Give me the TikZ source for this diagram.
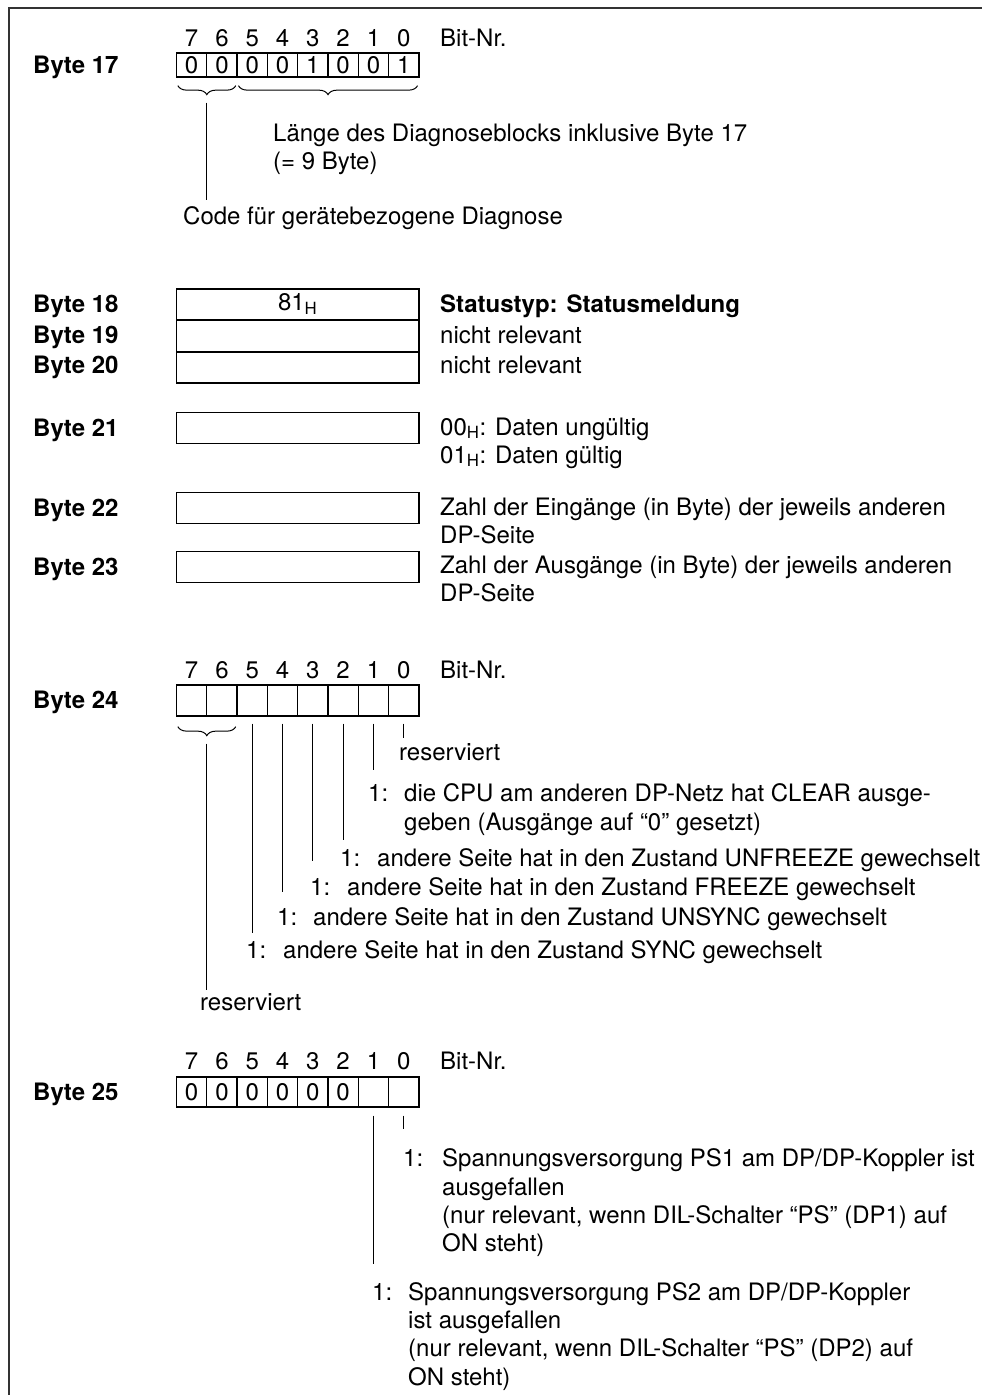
\documentclass[tikz,border=0pt]{standalone}
\usepackage{fontspec}
\setmainfont{TeX Gyre Heros}
\usetikzlibrary{decorations.pathreplacing,calc}
\newcommand{\fs}{\fontsize{24}{28.5}\selectfont}
\begin{document}
\begin{tikzpicture}[x=1pt,y=-1pt,
  txt/.style={anchor=base west,inner sep=0pt,font=\fs},
  lbl/.style={anchor=base west,inner sep=0pt,font=\fs\bfseries},
  dig/.style={anchor=base,inner sep=0pt,font=\fs},
  cell/.style={draw,line width=1.3pt,minimum width=30.3pt,minimum height=#1,inner sep=0pt,anchor=center,font=\fs},
  wbox/.style={draw,line width=1.3pt,minimum width=242.4pt,minimum height=30.5pt,inner sep=0pt,anchor=center,font=\fs},
  lead/.style={line width=1pt},
  brc/.style={line width=1pt,decorate,decoration={brace,mirror,amplitude=9pt}},
  frame/.style={line width=1.8pt,black!80}]
\useasboundingbox (0,0) rectangle (982,1395);
\draw[frame] (9,1395) -- (9,8) -- (982,8);

% ---------------- Byte 17
\node[lbl] (l17) at (33,73) {Byte 17};
\foreach \i/\v in {7/0,6/0,5/0,4/0,3/1,2/0,1/0,0/1}{
  \node[cell=24pt] (c17-\i) at ({191.65+30.3*(7-\i)},65) {\v};
  \node[dig] (n17-\i) at ({191.65+30.3*(7-\i)},46) {\i};
}
\node[txt] (bn17) at (440,46) {Bit-Nr.};
\coordinate (b17a) at ($(c17-7.south west)+(2,8)$);
\coordinate (b17b) at ($(c17-6.south east)+(-2,8)$);
\coordinate (b17c) at ($(c17-5.south west)+(2,8)$);
\coordinate (b17d) at ($(c17-0.south east)+(-2,8)$);
\draw[brc] (b17a) -- (b17b);
\draw[brc] (b17c) -- (b17d);
\node[txt] (t17a) at (273,141) {Länge des Diagnoseblocks inklusive Byte 17};
\node[txt] (t17b) at (273,169) {(= 9 Byte)};
\node[txt] (t17c) at (183,224) {Code für gerätebezogene Diagnose};
\coordinate (s17) at ($(b17a)!0.5!(b17b)+(0,17)$);
\coordinate (e17) at (s17 |- 0,200);
\draw[lead] (s17) -- (e17);

% ---------------- Byte 18-23
\node[lbl] (l18) at (33,312) {Byte 18};
\node[lbl] (l19) at (33,343) {Byte 19};
\node[lbl] (l20) at (33,373) {Byte 20};
\node[wbox] (r18) at (297.7,304.25) {81\textsubscript{H}};
\node[wbox,anchor=north] (r19) at (r18.south) {};
\node[wbox,anchor=north] (r20) at (r19.south) {};
\node[txt,font=\fs\bfseries] (t18) at (440,312) {Statustyp: Statusmeldung};
\node[txt] (t19) at (440,343) {nicht relevant};
\node[txt] (t20) at (440,373) {nicht relevant};

\node[lbl] (l21) at (33,436) {Byte 21};
\node[wbox] (r21) at (297.7,428) {};
\node[txt] (t21a) at (440,435) {00\textsubscript{H}: Daten ungültig};
\node[txt] (t21b) at (440,463) {01\textsubscript{H}: Daten gültig};

\node[lbl] (l22) at (33,516) {Byte 22};
\node[wbox] (r22) at (297.7,508) {};
\node[txt] (t22a) at (440,515) {Zahl der Eingänge (in Byte) der jeweils anderen};
\node[txt] (t22b) at (440,543) {DP-Seite};

\node[lbl] (l23) at (33,575) {Byte 23};
\node[wbox] (r23) at (297.7,567) {};
\node[txt] (t23a) at (440,573) {Zahl der Ausgänge (in Byte) der jeweils anderen};
\node[txt] (t23b) at (440,601) {DP-Seite};

% ---------------- Byte 24
\node[lbl] (l24) at (33,708) {Byte 24};
\foreach \i in {7,...,0}{
  \node[cell=31pt] (c24-\i) at ({191.65+30.3*(7-\i)},700.5) {};
  \node[dig] (n24-\i) at ({191.65+30.3*(7-\i)},678) {\i};
}
\node[txt] (bn24) at (440,678) {Bit-Nr.};
\coordinate (b24a) at ($(c24-7.south west)+(2,10)$);
\coordinate (b24b) at ($(c24-6.south east)+(-2,10)$);
\draw[brc] (b24a) -- (b24b);
\coordinate (s24) at ($(b24a)!0.5!(b24b)+(0,17)$);
\coordinate (e24) at (s24 |- 0,990);
\draw[lead] (s24) -- (e24);
\node[txt] (r24a) at (399,760) {reserviert};
\node[txt] (k24-1) at (368,801) {1:};
\node[txt] (t24-1a) at (404,801) {die CPU am anderen DP-Netz hat CLEAR ausge-};
\node[txt] (t24-1b) at (404,830) {geben (Ausgänge auf “0” gesetzt)};
\node[txt] (k24-2) at (340,866) {1:};
\node[txt] (t24-2) at (377,866) {andere Seite hat in den Zustand UNFREEZE gewechselt};
\node[txt] (k24-3) at (310,895) {1:};
\node[txt] (t24-3) at (347,895) {andere Seite hat in den Zustand FREEZE gewechselt};
\node[txt] (k24-4) at (277,925) {1:};
\node[txt] (t24-4) at (313,925) {andere Seite hat in den Zustand UNSYNC gewechselt};
\node[txt] (k24-5) at (246,958) {1:};
\node[txt] (t24-5) at (283,958) {andere Seite hat in den Zustand SYNC gewechselt};
\node[txt] (r24b) at (200,1010) {reserviert};
\foreach \i/\e in {0/738,1/770,2/840,3/861,4/892,5/933}{
  \coordinate (e24-\i) at (c24-\i.south |- 0,\e);
  \draw[lead] ([yshift=-7pt]c24-\i.south) -- (e24-\i);
}

% ---------------- Byte 25
\node[lbl] (l25) at (33,1100) {Byte 25};
\foreach \i/\v in {7/0,6/0,5/0,4/0,3/0,2/0,1/{},0/{}}{
  \node[cell=30pt] (c25-\i) at ({191.65+30.3*(7-\i)},1092) {\v};
  \node[dig] (n25-\i) at ({191.65+30.3*(7-\i)},1069) {\i};
}
\node[txt] (bn25) at (440,1069) {Bit-Nr.};
\foreach \i/\e in {0/1129,1/1264}{
  \coordinate (e25-\i) at (c25-\i.south |- 0,\e);
  \draw[lead] ([yshift=-8pt]c25-\i.south) -- (e25-\i);
}
\node[txt] (k25-0) at (403,1166) {1:};
\node[txt] (t25-0a) at (442,1166) {Spannungsversorgung PS1 am DP/DP-Koppler ist};
\node[txt] (t25-0b) at (442,1195) {ausgefallen};
\node[txt] (t25-0c) at (442,1223) {(nur relevant, wenn DIL-Schalter “PS” (DP1) auf};
\node[txt] (t25-0d) at (442,1251) {ON steht)};
\node[txt] (k25-1) at (372,1300) {1:};
\node[txt] (t25-1a) at (408,1300) {Spannungsversorgung PS2 am DP/DP-Koppler};
\node[txt] (t25-1b) at (408,1328) {ist ausgefallen};
\node[txt] (t25-1c) at (408,1356) {(nur relevant, wenn DIL-Schalter “PS” (DP2) auf};
\node[txt] (t25-1d) at (408,1385) {ON steht)};
\end{tikzpicture}
\end{document}
